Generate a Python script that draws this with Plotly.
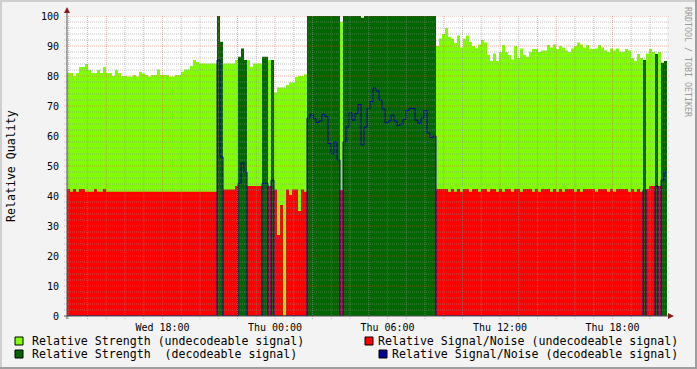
import pandas as pd
import plotly.graph_objects as go

# ---------------- data (one sample every 9.6 minutes, 200 samples) ----------------
START = "2024-01-03 12:54:24"   # a Wednesday
N_SAMPLES = 200

DECODABLE = [
    0, 0, 0, 0, 0, 0, 0, 0, 0, 0,
    0, 0, 0, 0, 0, 0, 0, 0, 0, 0,
    0, 0, 0, 0, 0, 0, 0, 0, 0, 0,
    0, 0, 0, 0, 0, 0, 0, 0, 0, 0,
    0, 0, 0, 0, 0, 0, 0, 0, 0, 0,
    1, 1, 0, 0, 0, 0, 0, 1, 1, 1,
    0, 0, 0, 0, 0, 1, 1, 0, 1, 0,
    0, 0, 0, 0, 0, 0, 0, 0, 0, 0,
    1, 1, 1, 1, 1, 1, 1, 1, 1, 1,
    1, 0, 1, 1, 1, 1, 1, 1, 1, 1,
    1, 1, 1, 1, 1, 1, 1, 1, 1, 1,
    1, 1, 1, 1, 1, 1, 1, 1, 1, 1,
    1, 1, 1, 0, 0, 0, 0, 0, 0, 0,
    0, 0, 0, 0, 0, 0, 0, 0, 0, 0,
    0, 0, 0, 0, 0, 0, 0, 0, 0, 0,
    0, 0, 0, 0, 0, 0, 0, 0, 0, 0,
    0, 0, 0, 0, 0, 0, 0, 0, 0, 0,
    0, 0, 0, 0, 0, 0, 0, 0, 0, 0,
    0, 0, 0, 0, 0, 0, 0, 0, 0, 0,
    0, 0, 1, 0, 0, 0, 1, 0, 1, 1,
]

STRENGTH = [
    81, 81, 80, 81, 83, 83, 84, 82, 81, 81,
    82, 81, 83, 81, 81, 80, 82, 81, 80, 80,
    79.8, 79.8, 80.3, 79.8, 81.4, 80.8, 80.3, 79.8, 80.3, 80.3,
    82.2, 80.3, 80.3, 80.3, 79.8, 79.8, 80.3, 80.3, 81.4, 82.2,
    82.2, 83.3, 85.3, 84.7, 84.2, 84.2, 84.2, 84.2, 84.2, 84.2,
    100, 91.4, 84.2, 84.2, 84.2, 84.2, 85.3, 86.4, 89.2, 85.3,
    85.3, 83.1, 84.2, 84.2, 84.2, 86.4, 86.4, 85.3, 85.3, 74.5,
    76.2, 76.2, 76.2, 77, 77.8, 77.8, 79.7, 80, 80, 80.6,
    100, 100, 100, 100, 100, 100, 100, 100, 100, 100,
    100, 98, 100, 100, 100, 100, 100, 100, 99.4, 100,
    100, 100, 100, 100, 100, 100, 100, 100, 100, 100,
    100, 100, 100, 100, 100, 100, 100, 100, 100, 100,
    100, 100, 100, 90, 92.5, 94, 96, 93, 92.4, 91,
    93.5, 89.5, 92.4, 93.5, 91.3, 90, 89.2, 90.5, 92, 91.2,
    87, 85, 87.5, 85, 88, 90.3, 88, 87, 85.5, 90,
    86, 89.2, 87, 86.4, 88, 89, 89, 88, 88.5, 88.5,
    90.3, 89.5, 90.5, 89, 90, 89.5, 88.5, 88, 89.2, 90,
    91.2, 90.5, 89.5, 90.3, 89, 89, 89.2, 90.3, 89.5, 88.5,
    88, 89.2, 88.5, 89.2, 88.1, 88.1, 89, 88.5, 86, 85,
    87.3, 86, 85.3, 87.5, 89, 88, 87.3, 88, 84.4, 85,
]

SIGNAL_NOISE = [
    42.3, 41.4, 42.3, 41.4, 42.3, 42.3, 41.4, 41.4, 41.4, 42.3,
    41.4, 41.4, 42.3, 41.4, 41.4, 41.4, 41.4, 41.4, 41.4, 41.4,
    41.4, 41.4, 41.4, 41.4, 41.4, 41.4, 41.4, 41.4, 41.4, 41.4,
    41.4, 41.4, 41.4, 41.4, 41.4, 41.4, 41.4, 41.4, 41.4, 41.4,
    41.4, 41.4, 41.4, 41.4, 41.4, 41.4, 41.4, 41.4, 41.4, 41.4,
    85.3, 53, 42.2, 42.2, 42.2, 42.2, 43.3, 44.2, 51, 48,
    43.3, 43.3, 43.3, 43.3, 43.3, 44.2, 44.2, 43.3, 45.3, 42.2,
    27, 37, 0, 42.2, 40.3, 42.2, 42.2, 35, 42.2, 41.4,
    66, 67.2, 65.8, 64.5, 65, 67.2, 66.5, 57.5, 54, 58,
    52, 42, 58, 63, 67.8, 65.3, 67.5, 70.5, 57, 63,
    69.2, 71.5, 76, 75, 72, 69, 64.4, 65, 67, 65,
    63.5, 64, 65.5, 68.5, 69.2, 69.2, 65.3, 64.2, 66, 68.5,
    61, 59.5, 60, 42.3, 42.3, 42.3, 42.3, 41.4, 42.3, 41.4,
    42.3, 41.4, 42.3, 42.3, 41.4, 42.3, 42.3, 41.4, 42.3, 42.3,
    41.4, 42.3, 42.3, 41.4, 42.3, 41.4, 42.3, 42.3, 41.4, 42.3,
    42.3, 41.4, 42.3, 42.3, 42.3, 41.4, 42.3, 41.4, 42.3, 42.3,
    42.3, 41.4, 42.3, 41.4, 42.3, 41.4, 42.3, 42.3, 42.3, 41.4,
    42.3, 41.4, 42.3, 42.3, 42.3, 42.3, 41.4, 42.3, 42.3, 42.3,
    41.4, 42.3, 41.4, 42.3, 42.3, 42.3, 42.3, 41.4, 42.3, 41.4,
    42.3, 41.4, 42, 42.3, 43.3, 43.3, 43.3, 43.3, 45.3, 47.9,
]

LEGEND = [
    "Relative Strength (undecodeable signal)",
    "Relative Signal/Noise (undecodeable signal)",
    "Relative Strength \u00a0(decodeable signal)",
    "Relative Signal/Noise (decodeable signal)",
]
Y_TITLE = "Relative Quality"
WATERMARK = "RRDTOOL / TOBI OETIKER"

# ---------------- colours ----------------
C_LIGHT = "#7FFF00"
C_RED = "#FF0000"
C_DARK = "#006600"
C_BLUE = "#000099"
C_BACK = "#F3F3F3"
C_GRID = "rgba(143,143,143,0.55)"
C_MGRID = "rgba(222,80,57,0.45)"
MONO = "DejaVu Sans Mono"

# ---------------- geometry (pixels) ----------------
W, H = 697, 369
PL, PR, PT, PB = 67, 667, 16, 316


def px(x):
    return (x - PL) / (PR - PL)


def py(y):
    return (PB - y) / (PB - PT)


times = pd.date_range(START, periods=N_SAMPLES + 1, freq="576s")


def split(values, want_dec):
    out = [v if bool(d) == want_dec else 0 for v, d in zip(values, DECODABLE)]
    return out + [out[-1]]


s_undec = split(STRENGTH, False)
n_undec = split(SIGNAL_NOISE, False)
s_dec = split(STRENGTH, True)
n_dec = split(SIGNAL_NOISE, True)

fig = go.Figure()
for vals, col in [(s_undec, C_LIGHT), (n_undec, C_RED), (s_dec, C_DARK)]:
    fig.add_trace(go.Scatter(
        x=times, y=vals, mode="lines", line=dict(width=0, shape="hv", color=col),
        fill="tozeroy", fillcolor=col, hoverinfo="skip", showlegend=False))
fig.add_trace(go.Scatter(
    x=times, y=n_dec, mode="lines", line=dict(width=1, shape="hv", color=C_BLUE),
    hoverinfo="skip", showlegend=False))

shapes = []
# vertical grid (hourly minor, 3-hourly major)
for t in pd.date_range(times[0].ceil("h"), times[-1], freq="h"):
    major = t.hour % 3 == 0
    shapes.append(dict(type="line", xref="x", yref="paper", x0=t, x1=t,
                       y0=py(PB + 3), y1=1, layer="above",
                       line=dict(color=C_MGRID if major else C_GRID, width=1, dash="1px,1px")))
# horizontal grid (2 minor, 10 major)
for v in range(2, 101, 2):
    major = v % 10 == 0
    shapes.append(dict(type="line", xref="paper", yref="y", x0=px(PL - 3), x1=px(PR + 3),
                       y0=v, y1=v, layer="above",
                       line=dict(color=C_MGRID if major else C_GRID, width=1, dash="1px,1px")))
# axes with arrows
C_AXIS = "#555555"
C_ARROW = "#8B1A1A"
shapes.append(dict(type="line", xref="paper", yref="paper", x0=0, x1=0, y0=py(PB + 3), y1=py(PT - 6),
                   layer="above", line=dict(color=C_AXIS, width=1)))
shapes.append(dict(type="line", xref="paper", yref="paper", x0=px(PL - 3), x1=px(PR + 3), y0=0, y1=0,
                   layer="above", line=dict(color=C_AXIS, width=1)))
shapes.append(dict(type="path", xref="paper", yref="paper", layer="above",
                   path=f"M {px(64)},{py(13)} L {px(70)},{py(13)} L {px(67)},{py(7)} Z",
                   fillcolor=C_ARROW, line=dict(width=0)))
shapes.append(dict(type="path", xref="paper", yref="paper", layer="above",
                   path=f"M {px(668)},{py(313)} L {px(668)},{py(319)} L {px(674)},{py(316)} Z",
                   fillcolor=C_ARROW, line=dict(width=0)))
# outer 3D border
shapes += [
    dict(type="rect", xref="paper", yref="paper", x0=px(0), x1=px(W), y0=py(0), y1=py(2),
         fillcolor="#CFCFCF", line=dict(width=0), layer="below"),
    dict(type="rect", xref="paper", yref="paper", x0=px(0), x1=px(2), y0=py(0), y1=py(H),
         fillcolor="#CFCFCF", line=dict(width=0), layer="below"),
    dict(type="rect", xref="paper", yref="paper", x0=px(W - 2), x1=px(W), y0=py(0), y1=py(H),
         fillcolor="#9E9E9E", line=dict(width=0), layer="below"),
    dict(type="rect", xref="paper", yref="paper", x0=px(0), x1=px(W), y0=py(H - 2), y1=py(H),
         fillcolor="#9E9E9E", line=dict(width=0), layer="below"),
]

# legend
LEG_FONT = dict(family=MONO, size=11.6, color="#000000")
legend_items = [
    (LEGEND[0], C_LIGHT, 15, 341, "left", 30),
    (LEGEND[1], C_RED, 365, 341, "right", 680),
    (LEGEND[2], C_DARK, 15, 354, "left", 30),
    (LEGEND[3], C_BLUE, 379, 354, "right", 680),
]
annotations = []
for text, col, sx, yc, anchor, tx in legend_items:
    shapes.append(dict(type="rect", xref="paper", yref="paper",
                       x0=px(sx), x1=px(sx + 8), y0=py(yc - 4), y1=py(yc + 4),
                       fillcolor=col, line=dict(color="#000000", width=1)))
    annotations.append(dict(text=text, xref="paper", yref="paper", x=px(tx), y=py(yc),
                            xanchor=anchor, yanchor="middle", showarrow=False, font=LEG_FONT))

annotations.append(dict(text=Y_TITLE, xref="paper", yref="paper", x=px(11), y=py(166),
                        xanchor="center", yanchor="middle", textangle=-90, showarrow=False,
                        font=LEG_FONT))
annotations.append(dict(text=WATERMARK, xref="paper", yref="paper", x=px(688), y=py(5),
                        xanchor="center", yanchor="top", textangle=90, showarrow=False,
                        font=dict(family=MONO, size=8.3, color="#9A9A9A")))

fig.update_layout(
    width=W, height=H,
    margin=dict(l=PL, r=W - PR, t=PT, b=H - PB, pad=0),
    paper_bgcolor=C_BACK, plot_bgcolor="#FFFFFF",
    showlegend=False,
    shapes=shapes, annotations=annotations,
    xaxis=dict(range=[times[0], times[-1]], showgrid=False, zeroline=False, showline=False,
               tickvals=list(pd.date_range("2024-01-03 18:00", times[-1], freq="6h")),
               tickformat="%a %H:%M", ticks="", ticklabelstandoff=4, automargin=False,
               tickfont=dict(family=MONO, size=10, color="#000000")),
    yaxis=dict(range=[0, 100], showgrid=False, zeroline=False, showline=False,
               tickvals=list(range(0, 101, 10)), ticks="", ticklabelstandoff=7, automargin=False,
               tickfont=dict(family=MONO, size=10, color="#000000")),
)

fig.write_html("out.html", config={"displayModeBar": False},
               post_script="document.body.style.margin='0';document.body.style.padding='0';")
